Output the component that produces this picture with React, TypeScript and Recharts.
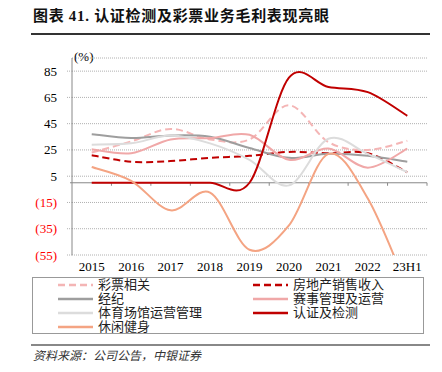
import { LineChart, Line, XAxis, YAxis, CartesianGrid, ReferenceLine } from 'recharts';

const categories = ['2015', '2016', '2017', '2018', '2019', '2020', '2021', '2022', '23H1'];

// gross margin, %
const lottery = [23, 31.5, 41, 33, 33, 59, 31, 25, 32];
const realEstate = [21, 16, 16.5, 19, 20.5, 23.5, 22.5, 22.5, 8];
const brokerage = [37, 34, 36, 35, 26.5, 19, 22, 20.5, 16];
const eventOps = [25.5, 22.5, 33, 34, 36.5, 17.5, 26, 11.5, 26];
const venueOps = [29, 30, 36, 30, 17.5, -2, 33.5, 22, 8];
const certification = [0, 0, 0, 0, 0, 80, 73, 69, 51];
const fitness = [12, 1.5, -21, -7.5, -51, -32.5, 22, -12, -80];

const yTicks = [-55, -35, -15, 5, 25, 45, 65, 85];

const series = [
  { key: 'lottery', name: '彩票相关', values: lottery, color: '#f4b5b5', dash: '7 4' },
  { key: 'realEstate', name: '房地产销售收入', values: realEstate, color: '#c00000', dash: '7 4' },
  { key: 'brokerage', name: '经纪', values: brokerage, color: '#9e9e9e', dash: undefined },
  { key: 'eventOps', name: '赛事管理及运营', values: eventOps, color: '#f0a8a8', dash: undefined },
  { key: 'venueOps', name: '体育场馆运营管理', values: venueOps, color: '#dcdcdc', dash: undefined },
  { key: 'certification', name: '认证及检测', values: certification, color: '#c00000', dash: undefined },
  { key: 'fitness', name: '休闲健身', values: fitness, color: '#f4a483', dash: undefined },
];

const data = categories.map((category, i) => {
  const row: Record<string, string | number> = { category };
  series.forEach((s) => (row[s.key] = s.values[i]));
  return row;
});

const serif = "'Liberation Serif', 'Times New Roman', serif";
const cjk = "'Liberation Serif', 'Noto Sans CJK SC', serif";

// Excel-style smoothed line (Catmull-Rom through every point)
const excelSmooth = (context: any) => {
  let pts: number[][] = [];
  return {
    areaStart() {},
    areaEnd() {},
    lineStart() {
      pts = [];
    },
    point(x: number, y: number) {
      pts.push([+x, +y]);
    },
    lineEnd() {
      if (!pts.length) return;
      context.moveTo(pts[0][0], pts[0][1]);
      for (let i = 0; i < pts.length - 1; i++) {
        const p0 = pts[i - 1] || pts[i];
        const p1 = pts[i];
        const p2 = pts[i + 1];
        const p3 = pts[i + 2] || p2;
        context.bezierCurveTo(
          p1[0] + (p2[0] - p0[0]) / 6,
          p1[1] + (p2[1] - p0[1]) / 6,
          p2[0] - (p3[0] - p1[0]) / 6,
          p2[1] - (p3[1] - p1[1]) / 6,
          p2[0],
          p2[1]
        );
      }
    },
  };
};

const YTick = (props: any) => {
  const { x, y, payload } = props;
  const v = payload.value;
  return (
    <text x={x} y={y} dy="0.35em" textAnchor="end" fontSize={13} fontFamily={serif} fill={v < 0 ? '#ff0000' : '#000'}>
      {v < 0 ? `(${-v})` : v}
    </text>
  );
};

// zero line doubles as the category axis, with marks between categories
const ZeroAxis = (props: any) => {
  const { x1, y1, x2 } = props;
  const step = (x2 - x1) / categories.length;
  return (
    <g>
      <line x1={x1 - 2} y1={y1} x2={x2} y2={y1} stroke="#888" strokeWidth={1} />
      {categories.map((_, i) => (
        <line key={i} x1={x1 + step * (i + 1)} y1={y1} x2={x1 + step * (i + 1)} y2={y1 + 3} stroke="#888" />
      ))}
    </g>
  );
};

export default function App() {
  return (
    <div style={{ position: 'absolute', left: 0, top: 0, width: 442, height: 372, background: '#fff', overflow: 'hidden' }}>
      <div
        style={{
          position: 'absolute',
          left: 33,
          top: 6,
          fontFamily: cjk,
          fontWeight: 'bold',
          fontSize: 15,
          lineHeight: '20px',
          letterSpacing: 0.7,
          color: '#111',
          whiteSpace: 'nowrap',
        }}
      >
        图表 41. 认证检测及彩票业务毛利表现亮眼
      </div>
      <div style={{ position: 'absolute', left: 31, top: 33, width: 399, height: 1.5, background: '#333' }} />

      <div style={{ position: 'absolute', left: 74, top: 49, fontFamily: serif, fontSize: 13, color: '#000' }}>(%)</div>

      <div style={{ position: 'absolute', left: 0, top: 0 }}>
        <LineChart width={442} height={290} data={data} margin={{ top: 58, right: 15, bottom: 15, left: 22 }}>
          <CartesianGrid vertical={false} stroke="#b0b0b0" strokeDasharray="1 1" />
          <XAxis
            dataKey="category"
            scale="band"
            axisLine={false}
            tickLine={false}
            tickSize={0}
            tickMargin={7}
            height={20}
            interval={0}
            tick={{ fontSize: 13, fontFamily: serif, fill: '#000' }}
          />
          <YAxis
            width={50}
            domain={[-55, 95]}
            ticks={yTicks}
            allowDataOverflow
            axisLine={{ stroke: '#888' }}
            tickLine={{ stroke: '#b0b0b0', strokeDasharray: '1 1' }}
            tickSize={5}
            tickMargin={10}
            tick={<YTick />}
          />
          <ReferenceLine y={0} shape={<ZeroAxis />} />
          {series.map((s) => (
            <Line
              key={s.key}
              dataKey={s.key}
              name={s.name}
              type={excelSmooth as any}
              stroke={s.color}
              strokeWidth={2}
              strokeDasharray={s.dash}
              dot={false}
              activeDot={false}
              isAnimationActive={false}
            />
          ))}
        </LineChart>
      </div>

      <div
        style={{
          position: 'absolute',
          left: 32,
          top: 277,
          width: 390,
          height: 55,
          border: '1px solid #999',
          display: 'grid',
          gridTemplateColumns: '195px 195px',
          gridAutoRows: '14px',
        }}
      >
        {series.map((s) => (
          <div key={s.key} style={{ display: 'flex', alignItems: 'center', paddingLeft: 25 }}>
            <svg width={35} height={6} style={{ marginRight: 5 }}>
              <line x1={0} y1={3} x2={35} y2={3} stroke={s.color} strokeWidth={2.5} strokeDasharray={s.dash} />
            </svg>
            <span style={{ fontFamily: cjk, fontSize: 13, lineHeight: '14px', color: '#222', whiteSpace: 'nowrap' }}>
              {s.name}
            </span>
          </div>
        ))}
      </div>

      <div style={{ position: 'absolute', left: 31, top: 344, width: 399, height: 1.5, background: '#888' }} />
      <div
        style={{
          position: 'absolute',
          left: 33,
          top: 348,
          fontFamily: cjk,
          fontStyle: 'italic',
          fontSize: 12,
          lineHeight: '16px',
          color: '#333',
          whiteSpace: 'nowrap',
        }}
      >
        资料来源：公司公告，中银证券
      </div>
    </div>
  );
}
